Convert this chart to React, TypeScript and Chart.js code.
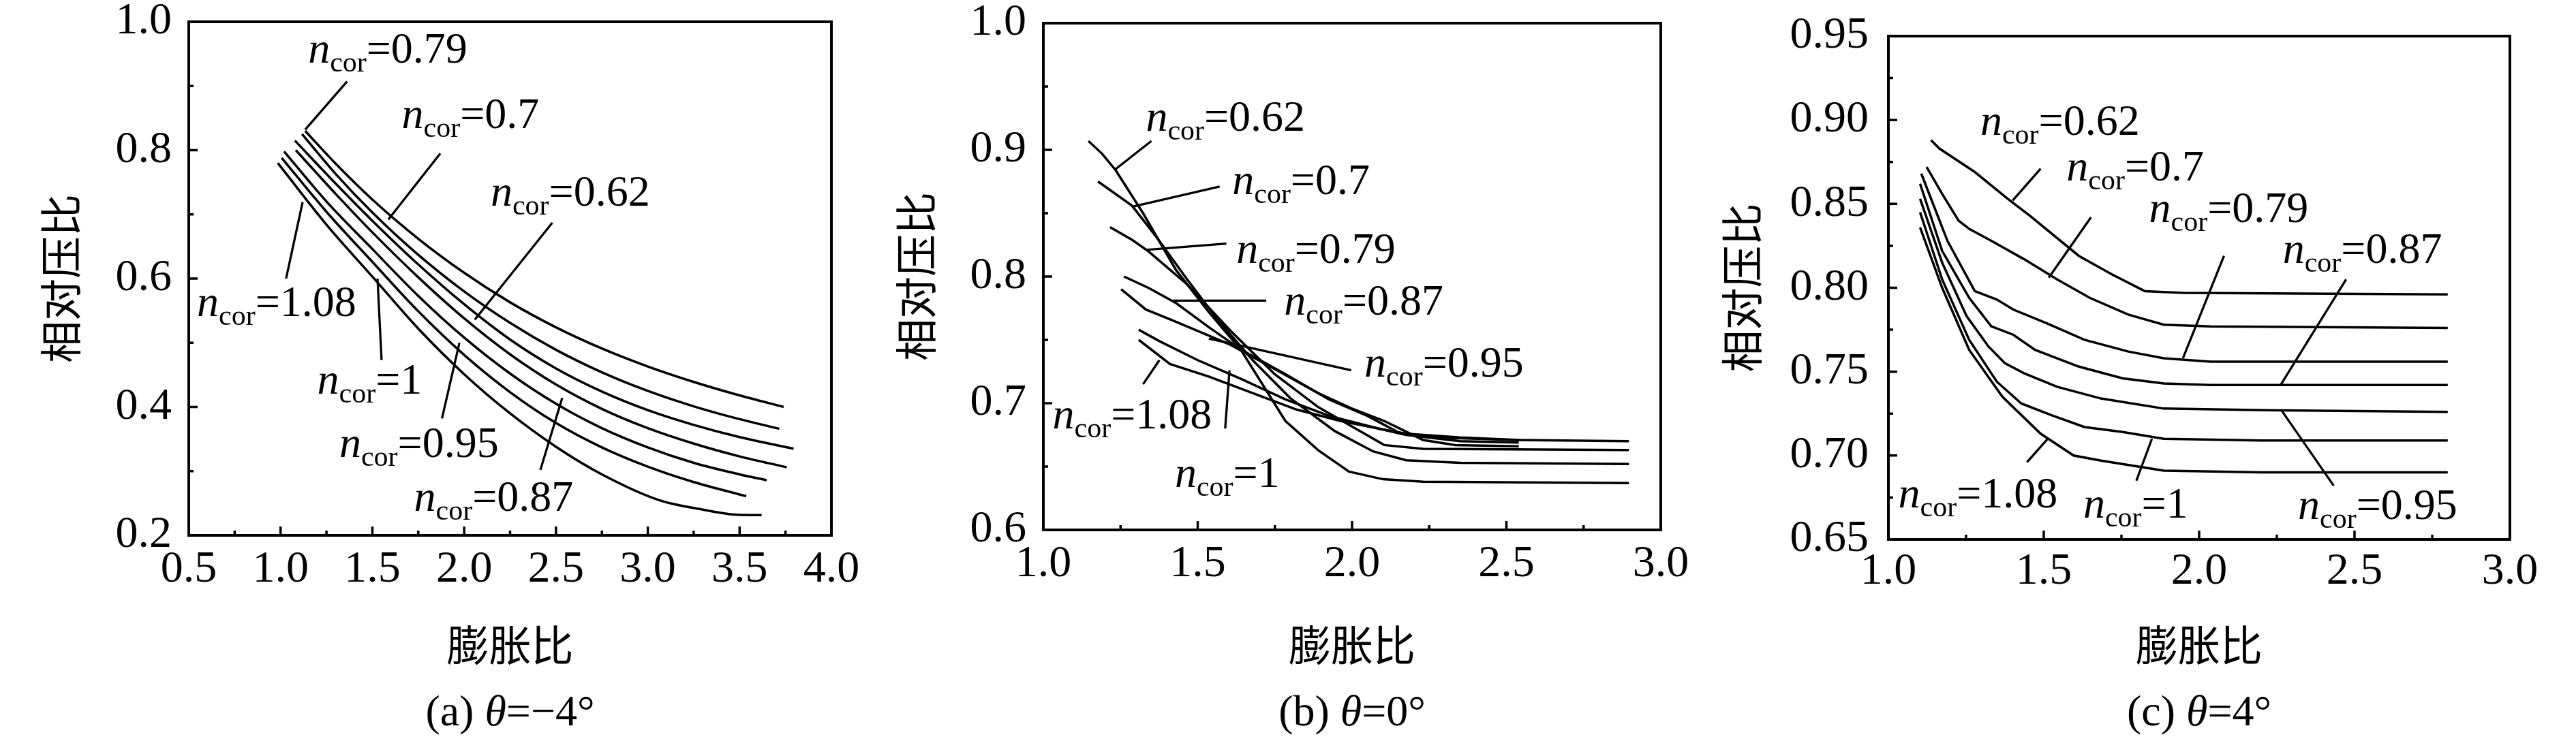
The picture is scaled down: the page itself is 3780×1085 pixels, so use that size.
import React, { useEffect, useRef } from "react";
import { Chart, registerables } from "chart.js";

Chart.register(...registerables);

const SERIF = '"Liberation Serif", "Times New Roman", serif';
const CJK = '"Noto Sans CJK SC", sans-serif';

const X_TITLE = "膨胀比";
const Y_TITLE = "相对压比";

// ---------- Panel (a) θ = -4° ----------
const A_X_TICKS = [0.5, 1.0, 1.5, 2.0, 2.5, 3.0, 3.5, 4.0];
const A_X_MINOR = [0.75, 1.25, 1.75, 2.25, 2.75, 3.25, 3.75];
const A_Y_TICKS = [0.2, 0.4, 0.6, 0.8, 1.0];
const A_Y_MINOR = [0.3, 0.5, 0.7, 0.9];
const A_S1 = [[1.134, 0.83], [1.3, 0.779], [1.5, 0.723], [1.75, 0.662], [2.0, 0.609], [2.25, 0.563], [2.5, 0.524], [2.75, 0.491], [3.0, 0.463], [3.25, 0.439], [3.5, 0.418], [3.74, 0.4]];
const A_S2 = [[1.117, 0.825], [1.3, 0.763], [1.5, 0.703], [1.75, 0.637], [2.0, 0.58], [2.25, 0.531], [2.5, 0.489], [2.75, 0.454], [3.0, 0.425], [3.25, 0.401], [3.5, 0.381], [3.716, 0.366]];
const A_S3 = [[1.078, 0.815], [1.3, 0.748], [1.5, 0.69], [1.75, 0.622], [2.0, 0.56], [2.25, 0.505], [2.5, 0.46], [2.75, 0.424], [3.0, 0.395], [3.25, 0.372], [3.5, 0.353], [3.794, 0.335]];
const A_S4 = [[1.083, 0.8], [1.3, 0.732], [1.5, 0.672], [1.75, 0.602], [2.0, 0.538], [2.25, 0.482], [2.5, 0.435], [2.75, 0.397], [3.0, 0.367], [3.25, 0.343], [3.5, 0.323], [3.757, 0.306]];
const A_S5 = [[1.019, 0.798], [1.25, 0.72], [1.5, 0.646], [1.75, 0.573], [2.0, 0.508], [2.25, 0.452], [2.5, 0.405], [2.75, 0.367], [3.0, 0.337], [3.25, 0.313], [3.5, 0.295], [3.648, 0.286]];
const A_S6 = [[1.006, 0.788], [1.25, 0.704], [1.5, 0.626], [1.75, 0.549], [2.0, 0.481], [2.25, 0.423], [2.5, 0.375], [2.75, 0.337], [3.0, 0.307], [3.25, 0.283], [3.536, 0.261]];
const A_S7 = [[0.985, 0.78], [1.25, 0.684], [1.5, 0.603], [1.75, 0.522], [2.0, 0.451], [2.25, 0.39], [2.5, 0.338], [2.75, 0.295], [3.06, 0.255], [3.3, 0.24], [3.487, 0.232], [3.62, 0.2315]];
const A_LABELS = ["0.79", "0.7", "0.62", "1.08", "1", "0.95", "0.87"];
const A_LABEL_AT = [[1.15, 0.936], [1.66, 0.834], [2.144, 0.714], [0.545, 0.542], [1.2, 0.421], [1.32, 0.322], [1.727, 0.238]];
const A_POINTERS = [[1.134, 0.832, 1.362, 0.907], [1.87, 0.795, 1.587, 0.692], [2.48, 0.687, 2.058, 0.536], [1.03, 0.6, 1.12, 0.719], [1.55, 0.473, 1.528, 0.6], [1.879, 0.382, 1.974, 0.5], [2.415, 0.302, 2.534, 0.414]];

// ---------- Panel (b) θ = 0° ----------
const B_X_TICKS = [1.0, 1.5, 2.0, 2.5, 3.0];
const B_X_MINOR = [1.25, 1.75, 2.25, 2.75];
const B_Y_TICKS = [0.6, 0.7, 0.8, 0.9, 1.0];
const B_Y_MINOR = [0.65, 0.75, 0.85, 0.95];
const B_S062 = [[1.146, 0.907], [1.19, 0.897], [1.234, 0.884], [1.323, 0.85], [1.43, 0.805], [1.536, 0.772], [1.64, 0.742], [1.784, 0.686], [1.89, 0.663], [1.99, 0.646], [2.1, 0.64], [2.23, 0.638], [2.897, 0.637]];
const B_S07 = [[1.177, 0.875], [1.287, 0.856], [1.367, 0.831], [1.465, 0.798], [1.571, 0.764], [1.678, 0.734], [1.8, 0.704], [1.944, 0.678], [2.068, 0.662], [2.175, 0.655], [2.35, 0.653], [2.897, 0.652]];
const B_S079 = [[1.216, 0.839], [1.287, 0.829], [1.34, 0.82], [1.465, 0.794], [1.607, 0.757], [1.749, 0.723], [1.89, 0.697], [1.997, 0.682], [2.104, 0.667], [2.23, 0.664], [2.897, 0.663]];
const B_S087 = [[1.261, 0.8], [1.341, 0.791], [1.43, 0.779], [1.536, 0.76], [1.642, 0.742], [1.784, 0.723], [1.925, 0.703], [2.05, 0.69], [2.157, 0.676], [2.264, 0.673], [2.53, 0.671], [2.897, 0.67]];
const B_S095 = [[1.252, 0.79], [1.332, 0.774], [1.412, 0.766], [1.5, 0.757], [1.607, 0.746], [1.749, 0.727], [1.89, 0.708], [1.997, 0.696], [2.104, 0.686], [2.23, 0.671], [2.334, 0.667], [2.54, 0.666]];
const B_S1 = [[1.309, 0.758], [1.376, 0.749], [1.5, 0.734], [1.642, 0.719], [1.784, 0.703], [1.926, 0.69], [2.086, 0.68], [2.175, 0.675], [2.35, 0.67], [2.54, 0.669]];
const B_S108 = [[1.309, 0.75], [1.41, 0.731], [1.536, 0.721], [1.678, 0.708], [1.82, 0.695], [1.962, 0.686], [2.086, 0.68], [2.175, 0.676], [2.35, 0.673], [2.54, 0.671]];
const B_LABELS = ["0.62", "0.7", "0.79", "0.87", "0.95", "1.08", "1"];
const B_LABEL_AT = [[1.332, 0.915], [1.612, 0.865], [1.625, 0.811], [1.78, 0.77], [2.04, 0.721], [1.03, 0.68], [1.426, 0.634]];
const B_POINTERS = [[1.35, 0.907, 1.23, 0.884], [1.571, 0.871, 1.287, 0.855], [1.593, 0.826, 1.332, 0.821], [1.722, 0.781, 1.42, 0.781], [1.997, 0.726, 1.536, 0.751], [1.323, 0.715, 1.376, 0.734], [1.589, 0.68, 1.603, 0.726]];

// ---------- Panel (c) θ = 4° ----------
const C_X_TICKS = [1.0, 1.5, 2.0, 2.5, 3.0];
const C_X_MINOR = [1.25, 1.75, 2.25, 2.75];
const C_Y_TICKS = [0.65, 0.7, 0.75, 0.8, 0.85, 0.9, 0.95];
const C_Y_MINOR = [0.675, 0.725, 0.775, 0.825, 0.875, 0.925];
const C_S062 = [[1.137, 0.888], [1.164, 0.883], [1.278, 0.869], [1.384, 0.853], [1.455, 0.843], [1.613, 0.819], [1.719, 0.808], [1.825, 0.798], [1.948, 0.797], [2.8, 0.796]];
const C_S07 = [[1.123, 0.872], [1.173, 0.856], [1.226, 0.84], [1.261, 0.835], [1.331, 0.828], [1.437, 0.817], [1.543, 0.805], [1.648, 0.794], [1.772, 0.784], [1.886, 0.778], [2.036, 0.777], [2.8, 0.776]];
const C_S079 = [[1.106, 0.868], [1.19, 0.828], [1.278, 0.798], [1.349, 0.793], [1.402, 0.787], [1.507, 0.779], [1.631, 0.769], [1.772, 0.762], [1.886, 0.758], [2.036, 0.756], [2.8, 0.756]];
const C_S087 = [[1.102, 0.862], [1.173, 0.822], [1.26, 0.794], [1.331, 0.777], [1.402, 0.772], [1.472, 0.763], [1.613, 0.753], [1.754, 0.746], [1.886, 0.743], [2.036, 0.742], [2.8, 0.742]];
const C_S095 = [[1.102, 0.853], [1.173, 0.815], [1.252, 0.783], [1.322, 0.765], [1.375, 0.755], [1.437, 0.749], [1.543, 0.741], [1.684, 0.734], [1.886, 0.728], [2.212, 0.727], [2.8, 0.726]];
const C_S1 = [[1.102, 0.845], [1.173, 0.805], [1.26, 0.769], [1.349, 0.744], [1.428, 0.731], [1.525, 0.724], [1.631, 0.717], [1.754, 0.714], [1.886, 0.71], [2.2, 0.709], [2.8, 0.709]];
const C_S108 = [[1.102, 0.836], [1.173, 0.8], [1.26, 0.763], [1.367, 0.735], [1.49, 0.713], [1.596, 0.7], [1.684, 0.697], [1.886, 0.691], [2.2, 0.69], [2.8, 0.69]];
const C_LABELS = ["0.62", "0.7", "0.79", "0.87", "0.95", "1.08", "1"];
const C_LABEL_AT = [[1.296, 0.891], [1.573, 0.864], [1.839, 0.839], [2.269, 0.815], [2.318, 0.662], [1.032, 0.669], [1.627, 0.663]];
const C_POINTERS = [[1.49, 0.871, 1.4, 0.852], [1.652, 0.842, 1.516, 0.806], [2.08, 0.819, 1.948, 0.758], [2.473, 0.805, 2.262, 0.742], [2.433, 0.682, 2.265, 0.727], [1.446, 0.696, 1.513, 0.71], [1.798, 0.685, 1.848, 0.71]];

const CANVAS_H = 1085;

type Panel = {
  left: number; width: number;
  padTop: number; padRight: number;
  yAxisW: number; xAxisH: number;
  yTitlePad: number; xTitlePad: number;
  yTickPad: number; xTickPad: number;
  xMin: number; xMax: number; yMin: number; yMax: number;
  xTicks: number[]; xMinor: number[]; yTicks: number[]; yMinor: number[];
  yDec: number; smooth: boolean;
  series: number[][][];
  labels: string[]; labelAt: number[][]; pointers: number[][];
  capLetter: string; capValue: string;
};

const PANELS: Panel[] = [
  {
    left: 0, width: 1300, padTop: 32, padRight: 80, yAxisW: 277, xAxisH: 299,
    yTitlePad: 58, xTitlePad: 107, yTickPad: 25, xTickPad: 18,
    xMin: 0.5, xMax: 4.0, yMin: 0.2, yMax: 1.0,
    xTicks: A_X_TICKS, xMinor: A_X_MINOR, yTicks: A_Y_TICKS, yMinor: A_Y_MINOR, yDec: 1, smooth: true,
    series: [A_S1, A_S2, A_S3, A_S4, A_S5, A_S6, A_S7],
    labels: A_LABELS, labelAt: A_LABEL_AT, pointers: A_POINTERS,
    capLetter: "(a) ", capValue: "=\u22124\u00b0",
  },
  {
    left: 1240, width: 1320, padTop: 34, padRight: 123, yAxisW: 291, xAxisH: 307,
    yTitlePad: 73, xTitlePad: 107, yTickPad: 25, xTickPad: 18,
    xMin: 1.0, xMax: 3.0, yMin: 0.6, yMax: 1.0,
    xTicks: B_X_TICKS, xMinor: B_X_MINOR, yTicks: B_Y_TICKS, yMinor: B_Y_MINOR, yDec: 1, smooth: false,
    series: [B_S062, B_S07, B_S079, B_S087, B_S095, B_S1, B_S108],
    labels: B_LABELS, labelAt: B_LABEL_AT, pointers: B_POINTERS,
    capLetter: "(b) ", capValue: "=0\u00b0",
  },
  {
    left: 2500, width: 1280, padTop: 53, padRight: 97, yAxisW: 271, xAxisH: 293,
    yTitlePad: 25, xTitlePad: 107, yTickPad: 29, xTickPad: 15,
    xMin: 1.0, xMax: 3.0, yMin: 0.65, yMax: 0.95,
    xTicks: C_X_TICKS, xMinor: C_X_MINOR, yTicks: C_Y_TICKS, yMinor: C_Y_MINOR, yDec: 2, smooth: false,
    series: [C_S062, C_S07, C_S079, C_S087, C_S095, C_S1, C_S108],
    labels: C_LABELS, labelAt: C_LABEL_AT, pointers: C_POINTERS,
    capLetter: "(c) ", capValue: "=4\u00b0",
  },
];

const TICK_FONT = 66;
const LABEL_FONT = 64;
const SUB_FONT = 42;

function makePlugin(p: Panel) {
  return {
    id: "decor",
    afterDatasetsDraw(chart: any) {
      const { ctx, chartArea: a, scales } = chart;
      const xs = scales.x, ys = scales.y;
      ctx.save();
      ctx.strokeStyle = "#000";
      ctx.fillStyle = "#000";
      // frame
      ctx.lineWidth = 4;
      ctx.strokeRect(a.left, a.top, a.right - a.left, a.bottom - a.top);
      // ticks (inward, bottom and left)
      ctx.lineWidth = 3.5;
      ctx.beginPath();
      p.xTicks.forEach((v) => { const x = xs.getPixelForValue(v); ctx.moveTo(x, a.bottom); ctx.lineTo(x, a.bottom - 13); });
      p.xMinor.forEach((v) => { const x = xs.getPixelForValue(v); ctx.moveTo(x, a.bottom); ctx.lineTo(x, a.bottom - 7); });
      p.yTicks.forEach((v) => { const y = ys.getPixelForValue(v); ctx.moveTo(a.left, y); ctx.lineTo(a.left + 13, y); });
      p.yMinor.forEach((v) => { const y = ys.getPixelForValue(v); ctx.moveTo(a.left, y); ctx.lineTo(a.left + 7, y); });
      ctx.stroke();
      // pointer lines
      ctx.lineWidth = 3.3;
      ctx.lineCap = "butt";
      ctx.beginPath();
      p.pointers.forEach(([x1, y1, x2, y2]) => {
        ctx.moveTo(xs.getPixelForValue(x1), ys.getPixelForValue(y1));
        ctx.lineTo(xs.getPixelForValue(x2), ys.getPixelForValue(y2));
      });
      ctx.stroke();
      // labels n_cor = value
      ctx.textBaseline = "alphabetic";
      ctx.textAlign = "left";
      p.labels.forEach((t, i) => {
        let x = xs.getPixelForValue(p.labelAt[i][0]);
        const y = ys.getPixelForValue(p.labelAt[i][1]);
        ctx.font = `italic ${LABEL_FONT}px ${SERIF}`;
        ctx.fillText("n", x, y);
        x += ctx.measureText("n").width;
        ctx.font = `${SUB_FONT}px ${SERIF}`;
        ctx.fillText("cor", x, y + 13);
        x += ctx.measureText("cor").width;
        ctx.font = `${LABEL_FONT}px ${SERIF}`;
        ctx.fillText("=" + t, x, y);
      });
      // caption
      const capY = 1065;
      const cx = (a.left + a.right) / 2;
      const f1 = `64px ${SERIF}`, f2 = `italic 64px ${SERIF}`;
      ctx.font = f1; const w1 = ctx.measureText(p.capLetter).width; const w3 = ctx.measureText(p.capValue).width;
      ctx.font = f2; const w2 = ctx.measureText("\u03b8").width;
      let x0 = cx - (w1 + w2 + w3) / 2;
      ctx.font = f1; ctx.fillText(p.capLetter, x0, capY); x0 += w1;
      ctx.font = f2; ctx.fillText("\u03b8", x0, capY); x0 += w2;
      ctx.font = f1; ctx.fillText(p.capValue, x0, capY);
      ctx.restore();
    },
  };
}

function makeConfig(p: Panel): any {
  return {
    type: "scatter",
    data: {
      datasets: p.series.map((s) => ({
        data: s.map(([x, y]) => ({ x, y })),
        showLine: true,
        borderColor: "#000",
        backgroundColor: "#000",
        borderWidth: 3.5,
        pointRadius: 0,
        pointHoverRadius: 0,
        fill: false,
        tension: 0,
        cubicInterpolationMode: p.smooth ? "monotone" : "default",
      })),
    },
    options: {
      animation: false,
      responsive: false,
      devicePixelRatio: 1,
      events: [],
      layout: { padding: { left: 0, top: p.padTop, right: p.padRight, bottom: 0 } },
      plugins: { legend: { display: false }, tooltip: { enabled: false }, title: { display: false } },
      scales: {
        x: {
          type: "linear",
          min: p.xMin,
          max: p.xMax,
          afterBuildTicks: (s: any) => { s.ticks = p.xTicks.map((v) => ({ value: v })); },
          afterFit: (s: any) => { s.height = p.xAxisH; s.paddingLeft = 0; s.paddingRight = 0; s.paddingTop = 0; s.paddingBottom = 0; },
          ticks: {
            autoSkip: false, maxRotation: 0, minRotation: 0, padding: p.xTickPad, color: "#000",
            font: { family: SERIF, size: TICK_FONT, lineHeight: 1 },
            callback: (v: any) => Number(v).toFixed(1),
          },
          grid: { display: false, drawTicks: false },
          border: { display: false },
          title: { display: true, text: X_TITLE, color: "#000", font: { family: CJK, size: 62, lineHeight: 1 }, padding: { top: 0, bottom: p.xTitlePad } },
        },
        y: {
          type: "linear",
          min: p.yMin,
          max: p.yMax,
          afterBuildTicks: (s: any) => { s.ticks = p.yTicks.map((v) => ({ value: v })); },
          afterFit: (s: any) => { s.width = p.yAxisW; s.paddingLeft = 0; s.paddingRight = 0; s.paddingTop = 0; s.paddingBottom = 0; },
          ticks: {
            autoSkip: false, padding: p.yTickPad, color: "#000",
            font: { family: SERIF, size: TICK_FONT, lineHeight: 1 },
            callback: (v: any) => Number(v).toFixed(p.yDec),
          },
          grid: { display: false, drawTicks: false },
          border: { display: false },
          title: { display: true, text: Y_TITLE, color: "#000", font: { family: CJK, size: 62, lineHeight: 1 }, padding: { top: p.yTitlePad, bottom: 0 } },
        },
      },
    },
    plugins: [makePlugin(p)],
  };
}

function PanelChart({ p }: { p: Panel }) {
  const ref = useRef<HTMLCanvasElement | null>(null);
  useEffect(() => {
    if (!ref.current) return;
    const chart = new Chart(ref.current, makeConfig(p));
    return () => chart.destroy();
  }, [p]);
  return (
    <canvas
      ref={ref}
      width={p.width}
      height={CANVAS_H}
      style={{ position: "absolute", left: p.left, top: 0, width: p.width, height: CANVAS_H }}
    />
  );
}

export default function App() {
  return (
    <div style={{ position: "absolute", left: 0, top: 0, width: 3780, height: CANVAS_H, background: "#fff", overflow: "hidden" }}>
      {PANELS.map((p, i) => (
        <PanelChart key={i} p={p} />
      ))}
    </div>
  );
}
